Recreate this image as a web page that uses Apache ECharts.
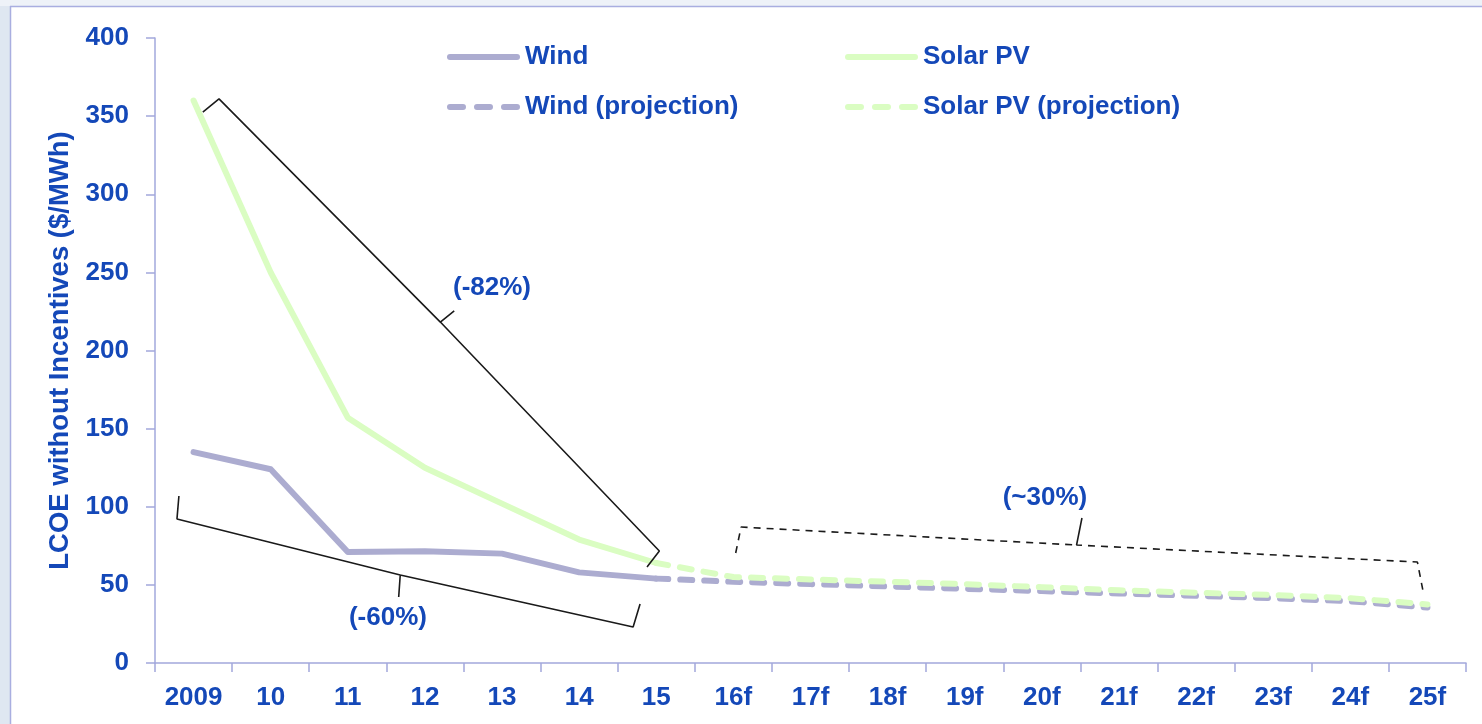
<!DOCTYPE html>
<html>
<head>
<meta charset="utf-8">
<script src="https://cdn.jsdelivr.net/npm/echarts@6/dist/echarts.min.js"></script>
<style>
html,body{margin:0;padding:0;background:#fff;}
#chart{width:1482px;height:724px;}
</style>
</head>
<body>
<div id="chart"></div>
<script>
// ---- data ----
const categories = ['2009','10','11','12','13','14','15','16f','17f','18f','19f','20f','21f','22f','23f','24f','25f'];
const yTicks = [0, 50, 100, 150, 200, 250, 300, 350, 400];
const windActual      = [135, 124, 71, 71.5, 70, 58, 54, null, null, null, null, null, null, null, null, null, null];
const solarActual     = [360, 250, 157, 125, 102, 79, 64, null, null, null, null, null, null, null, null, null, null];
const windProjection  = [null, null, null, null, null, null, 54, 52, 50.5, 49, 47.5, 46, 44.5, 43, 41.5, 39.5, 35.5];
const solarProjection = [null, null, null, null, null, null, 64, 55, 53.5, 52, 50.5, 48.5, 46.5, 45, 43.5, 41.5, 37.5];
// annotation braces, in data space: [category index, value]
const brace82 = [[0.12, 352.6], [0.33, 361], [3.2, 218.2], [3.38, 225.3], [3.2, 218.2], [6.04, 71.7], [5.88, 61.4]];
const brace60 = [[-0.19, 106.9], [-0.215, 92.2], [2.68, 56.3], [2.66, 42.2], [2.68, 56.3], [5.70, 23], [5.79, 37.8]];
const brace30 = [[7.03, 70.4], [7.10, 87], [11.45, 75.5], [11.52, 92.8], [11.45, 75.5], [15.87, 64.6], [15.94, 46.7]];
const changeLabels = [[3.87, 240, '(-82%)'], [2.52, 28.8, '(-60%)'], [11.04, 106, '(~30%)']];

const BLUE = '#1448b8';
const AXIS = '#a2a8dc';
const WIND = '#acacd0';
const SOLAR = '#dafdc2';
const FONT = "'Liberation Sans', Arial, sans-serif";
const txt = {color: BLUE, fontSize: 26, fontWeight: 'bold', fontFamily: FONT};
const SOLID_ICON = 'path://M3,0h67a3,3 0 0 1 0,6h-67a3,3 0 0 1 0,-6z';
const DASH_ICON = 'path://M3,0h13a3,3 0 0 1 0,6h-13a3,3 0 0 1 0,-6z M30,0h13a3,3 0 0 1 0,6h-13a3,3 0 0 1 0,-6z M57,0h13a3,3 0 0 1 0,6h-13a3,3 0 0 1 0,-6z';

const chart = echarts.init(document.getElementById('chart'), null, {renderer: 'canvas'});
const braceSeries = (data, dashed) => ({
  type: 'line', xAxisIndex: 1, yAxisIndex: 0, data: data, symbol: 'none', silent: true,
  lineStyle: {color: '#1a1a1a', width: 1.6, type: dashed ? [7, 6] : 'solid'}, z: 5, animation: false
});
const legendCommon = {orient: 'vertical', top: 39, itemWidth: 73, itemHeight: 6, itemGap: 24,
  textStyle: txt, selectedMode: false};

chart.setOption({
  animation: false,
  backgroundColor: '#ffffff',
  grid: {left: 155, right: 16, top: 38, bottom: 61},
  graphic: [
    {type: 'rect', left: 0, top: 0, shape: {width: 10, height: 724}, style: {fill: '#dfe7f1'}, silent: true},
    {type: 'rect', left: 0, top: 0, shape: {width: 1482, height: 6}, style: {fill: '#eef2f8'}, silent: true},
    {type: 'line', shape: {x1: 10.5, y1: 6, x2: 10.5, y2: 724}, style: {stroke: '#a9aee0', lineWidth: 1.5}, silent: true},
    {type: 'line', shape: {x1: 10, y1: 6.5, x2: 1482, y2: 6.5}, style: {stroke: '#a9aee0', lineWidth: 1.5}, silent: true}
  ],
  legend: [
    Object.assign({left: 442, data: [
      {name: 'Wind', icon: SOLID_ICON},
      {name: 'Wind (projection)', icon: DASH_ICON}]}, legendCommon),
    Object.assign({left: 840, data: [
      {name: 'Solar PV', icon: SOLID_ICON},
      {name: 'Solar PV (projection)', icon: DASH_ICON}]}, legendCommon)
  ],
  xAxis: [
    {type: 'category', data: categories, boundaryGap: true,
     axisLine: {lineStyle: {color: AXIS, width: 1.5}},
     axisTick: {show: true, length: 9, lineStyle: {color: AXIS, width: 1.5}},
     axisLabel: Object.assign({margin: 22, interval: 0}, txt),
     splitLine: {show: false}},
    {type: 'value', min: -0.5, max: categories.length - 0.5, show: false}
  ],
  yAxis: {
    type: 'value', min: yTicks[0], max: yTicks[yTicks.length - 1], interval: 50,
    name: 'LCOE without Incentives ($/MWh)', nameLocation: 'middle', nameGap: 77, nameRotate: 90,
    nameTextStyle: Object.assign({}, txt, {fontSize: 27.5}),
    axisLine: {show: true, onZero: false, lineStyle: {color: AXIS, width: 1.5}},
    axisTick: {show: true, length: 9, lineStyle: {color: AXIS, width: 1.5}},
    axisLabel: Object.assign({margin: 26}, txt),
    splitLine: {show: false}
  },
  series: [
    {name: 'Wind', type: 'line', data: windActual, symbol: 'none',
     lineStyle: {color: WIND, width: 6, cap: 'round', join: 'round'}, itemStyle: {color: WIND}, z: 3},
    {name: 'Wind (projection)', type: 'line', data: windProjection, symbol: 'none',
     lineStyle: {color: WIND, width: 6, type: [12, 12], cap: 'round', join: 'round'}, itemStyle: {color: WIND}, z: 3},
    {name: 'Solar PV', type: 'line', data: solarActual, symbol: 'none',
     lineStyle: {color: SOLAR, width: 6, cap: 'round', join: 'round'}, itemStyle: {color: SOLAR}, z: 4},
    {name: 'Solar PV (projection)', type: 'line', data: solarProjection, symbol: 'none',
     lineStyle: {color: SOLAR, width: 6, type: [12, 12], cap: 'round', join: 'round'}, itemStyle: {color: SOLAR}, z: 4},
    braceSeries(brace82, false),
    braceSeries(brace60, false),
    braceSeries(brace30, true),
    {type: 'scatter', xAxisIndex: 1, yAxisIndex: 0, data: changeLabels, symbol: 'circle', symbolSize: 0, silent: true,
     itemStyle: {color: BLUE, opacity: 1},
     label: Object.assign({show: true, position: 'inside', textBorderWidth: 0, opacity: 1, formatter: p => p.value[2]}, txt), z: 6}
  ]
});
</script>
</body>
</html>
